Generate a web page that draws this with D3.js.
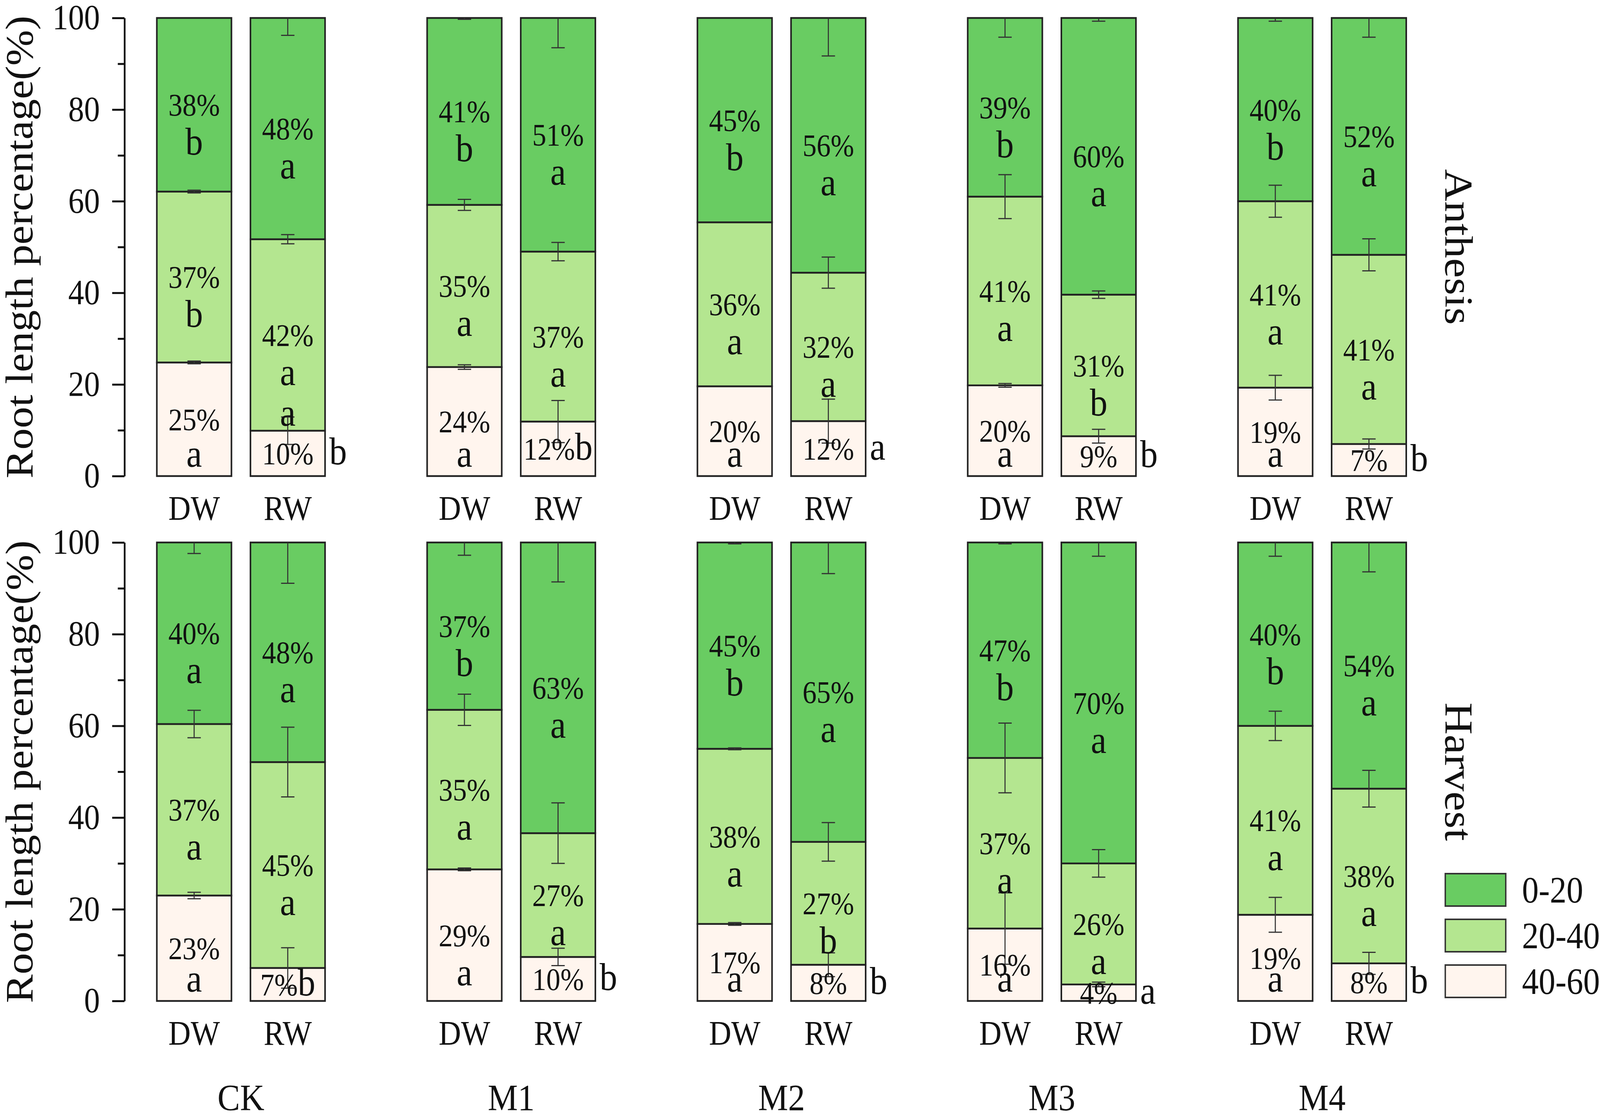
<head>
  <script src="https://d3js.org/d3.v7.min.js"></script>
</head>
<style>
  html, body { margin: 0; padding: 0; background: #fff; overflow: hidden; }
  svg { display: block; width: 100vw; height: 100vh; }
  text { font-family: "Liberation Serif", "Times New Roman", serif; fill: #111; }
</style>
<body>
  <svg id="chart"></svg>
</body>
<script>
  var w = 4550;
  var h = 2855;

  var groups = ["CK", "M1", "M2", "M3", "M4"];
  var treatments = ["DW", "RW"];
  var stages = ["Anthesis", "Harvest"];
  // soil layers, bottom of the stack first
  var layers = ["40-60", "20-40", "0-20"];
  var legendOrder = ["0-20", "20-40", "40-60"];

  // one row per bar (CK DW, CK RW, M1 DW ...), values for [40-60, 20-40, 0-20]
  var anthesisPct = [
    [24.8, 37.3, 37.9], [9.9, 41.8, 48.3],
    [23.8, 35.4, 40.8], [11.9, 37.1, 51.0],
    [19.6, 35.8, 44.6], [12.0, 32.4, 55.6],
    [19.8, 41.2, 39.0], [8.7, 30.9, 60.4],
    [19.3, 40.7, 40.0], [7.0, 41.3, 51.7]
  ];
  var anthesisErr = [
    [0.3, 0.3, 0], [3.0, 1.0, 3.8],
    [0.5, 1.2, 0.3], [4.6, 2.0, 6.5],
    [0, 0, 0], [4.8, 3.4, 8.3],
    [0.4, 4.8, 4.2], [1.5, 0.8, 0.7],
    [2.7, 3.5, 0.7], [1.1, 3.5, 4.2]
  ];
  var anthesisLetters = [
    ["a", "b", "b"], ["b", "a", "a"],
    ["a", "a", "b"], ["b", "a", "a"],
    ["a", "a", "b"], ["a", "a", "a"],
    ["a", "a", "b"], ["b", "b", "a"],
    ["a", "a", "b"], ["b", "a", "a"]
  ];

  var harvestPct = [
    [23.0, 37.4, 39.6], [7.2, 44.9, 47.9],
    [28.7, 34.8, 36.5], [9.6, 27.0, 63.4],
    [16.8, 38.2, 45.0], [7.9, 26.8, 65.3],
    [15.8, 37.2, 47.0], [3.6, 26.4, 70.0],
    [18.8, 41.2, 40.0], [8.2, 38.1, 53.7]
  ];
  var harvestErr = [
    [0.7, 3.0, 2.4], [4.4, 7.6, 8.9],
    [0.3, 3.4, 2.8], [1.9, 6.6, 8.6],
    [0.3, 0.2, 0.3], [2.6, 4.2, 6.8],
    [7.8, 7.6, 0.3], [0.5, 3.0, 3.0],
    [3.8, 3.2, 3.0], [2.4, 4.0, 6.4]
  ];
  var harvestLetters = [
    ["a", "a", "a"], ["b", "a", "a"],
    ["a", "a", "b"], ["b", "a", "a"],
    ["a", "a", "b"], ["b", "b", "a"],
    ["a", "a", "b"], ["a", "a", "a"],
    ["a", "a", "b"], ["b", "a", "a"]
  ];

  var stageData = {
    Anthesis: {pct: anthesisPct, err: anthesisErr, letters: anthesisLetters},
    Harvest: {pct: harvestPct, err: harvestErr, letters: harvestLetters}
  };

  // small bottom segments where the letter sits right after the % inside the bar
  var sideLetter = {"Anthesis|M1|RW": true, "Harvest|CK|RW": true};
  // stray letter printed in the original figure
  var strayLetters = [{stage: "Anthesis", group: "CK", bar: "RW", at: 11, text: "a"}];

  var color = d3.scaleOrdinal()
      .domain(layers)
      .range(["#fff5ee", "#b4e690", "#69cc62"]);

  var panelRange = {Anthesis: [1219, 46], Harvest: [2563, 1389]};
  var axisX = 354;

  // drawn in a 4550x2855 space, stretched to fill the window
  var svg = d3.select("svg#chart")
      .attr("viewBox", "0 0 " + w + " " + h)
      .attr("preserveAspectRatio", "none");
  svg.append("rect").attr("width", w).attr("height", h).attr("fill", "#fff");

  var xGroup = d3.scaleBand()
      .domain(groups)
      .range([446, 3999])
      .paddingInner(0.3776);
  var xBar = d3.scaleBand()
      .domain(treatments)
      .range([0, xGroup.bandwidth()])
      .paddingInner(0.203);
  var bw = xBar.bandwidth();
  function barX(d){ return xGroup(d.group) + xBar(d.bar); }

  var pctSize = 80, letterSize = 100;

  stages.forEach(function(stage){
    var src = stageData[stage];
    var y = d3.scaleLinear().domain([0, 100]).range(panelRange[stage]);

    var rows = src.pct.map(function(p, i){
      var r = {group: groups[Math.floor(i/2)], bar: treatments[i%2], idx: i};
      layers.forEach(function(k, j){ r[k] = p[j]; });
      return r;
    });
    var series = d3.stack().keys(layers)(rows);

    var g = svg.append("g");

    // stacked bars
    g.selectAll("g.layer")
      .data(series)
      .enter().append("g")
      .attr("class", "layer")
      .attr("fill", function(s){ return color(s.key); })
      .selectAll("rect")
      .data(function(s){ return s; })
      .enter().append("rect")
      .attr("x", function(d){ return barX(d.data); })
      .attr("width", bw)
      .attr("y", function(d){ return y(d[1]); })
      .attr("height", function(d){ return y(d[0]) - y(d[1]); })
      .attr("stroke", "#222")
      .attr("stroke-width", 4.5);

    // error bars at the top of each segment
    var eg = g.append("g").attr("stroke", "#333").attr("stroke-width", 3);
    series.forEach(function(s, j){
      s.forEach(function(d){
        var e = src.err[d.data.idx][j];
        if (!e) return;
        var cx = barX(d.data) + bw/2;
        var lo = Math.max(0, d[1] - e), hi = Math.min(100, d[1] + e);
        eg.append("line").attr("x1", cx).attr("x2", cx).attr("y1", y(lo)).attr("y2", y(hi));
        eg.append("line").attr("x1", cx - 19).attr("x2", cx + 19).attr("y1", y(lo)).attr("y2", y(lo));
        if (d[1] + e <= 100)
          eg.append("line").attr("x1", cx - 19).attr("x2", cx + 19).attr("y1", y(hi)).attr("y2", y(hi));
      });
    });

    // percentages and letters
    var tg = g.append("g");
    series.forEach(function(s, j){
      s.forEach(function(d){
        var cx = barX(d.data) + bw/2;
        var base = y((d[0] + d[1])/2) + 0.35*pctSize;
        var pct = Math.round(d[1] - d[0]) + "%";
        var letter = src.letters[d.data.idx][j];
        var small = (d[1] - d[0]) < 13;
        var key = stage + "|" + d.data.group + "|" + d.data.bar;
        if (small && sideLetter[key]){
          var t = tg.append("text").attr("x", cx).attr("y", base)
              .attr("text-anchor", "middle").attr("font-size", pctSize);
          t.append("tspan").text(pct);
          t.append("tspan").attr("font-size", letterSize).text(letter);
        } else {
          tg.append("text").attr("x", cx).attr("y", base)
            .attr("text-anchor", "middle").attr("font-size", pctSize).text(pct);
          if (small){
            tg.append("text").attr("x", barX(d.data) + bw + 12).attr("y", base)
              .attr("font-size", letterSize).text(letter);
          } else {
            tg.append("text").attr("x", cx).attr("y", Math.min(base + 100, y(0) - 24))
              .attr("text-anchor", "middle").attr("font-size", letterSize).text(letter);
          }
        }
      });
    });

    strayLetters.filter(function(s){ return s.stage == stage; }).forEach(function(s){
      tg.append("text")
        .attr("x", xGroup(s.group) + xBar(s.bar) + bw/2)
        .attr("y", y(s.at))
        .attr("text-anchor", "middle")
        .attr("font-size", letterSize)
        .text(s.text);
    });

    // y axis with minor ticks
    var ax = g.append("g").attr("transform", "translate(" + axisX + ",0)");
    ax.call(d3.axisLeft(y).tickValues([0, 20, 40, 60, 80, 100]).tickSize(35).tickSizeOuter(0).tickPadding(35));
    ax.append("g").call(d3.axisLeft(y).tickValues([10, 30, 50, 70, 90]).tickSize(19).tickFormat(""))
      .select(".domain").remove();
    ax.selectAll("path, line").attr("stroke", "#111").attr("stroke-width", 5);
    ax.selectAll("text")
      .attr("font-size", 90)
      .attr("fill", "#111");

    svg.append("text")
      .attr("transform", "translate(92," + (y(50)) + ") rotate(-90)")
      .attr("text-anchor", "middle")
      .attr("font-size", 110)
      .text("Root length percentage(%)");

    // DW / RW labels under the bars
    groups.forEach(function(gr){
      treatments.forEach(function(t){
        svg.append("text")
          .attr("x", xGroup(gr) + xBar(t) + bw/2)
          .attr("y", y(0) + 112)
          .attr("text-anchor", "middle")
          .attr("font-size", 88)
          .text(t);
      });
    });

    svg.append("text")
      .attr("transform", "translate(4110," + y(50) + ") rotate(90)")
      .attr("text-anchor", "middle")
      .attr("font-size", 114)
      .text(stage);
  });

  // treatment names along the bottom
  svg.selectAll("text.grp")
    .data(groups)
    .enter().append("text")
    .attr("class", "grp")
    .attr("x", function(d){ return xGroup(d) + xGroup.bandwidth()/2; })
    .attr("y", 2843)
    .attr("text-anchor", "middle")
    .attr("font-size", 96)
    .text(function(d){ return d; });

  // legend
  var leg = svg.append("g").attr("transform", "translate(4110,2237)");
  var li = leg.selectAll("g")
      .data(legendOrder)
      .enter().append("g")
      .attr("transform", function(d, i){ return "translate(0," + i*117 + ")"; });
  li.append("rect")
    .attr("width", 172)
    .attr("height", 83)
    .attr("fill", function(d){ return color(d); })
    .attr("stroke", "#333")
    .attr("stroke-width", 4);
  li.append("text")
    .attr("x", 218)
    .attr("y", 74)
    .attr("font-size", 95)
    .text(function(d){ return d; });
</script>
